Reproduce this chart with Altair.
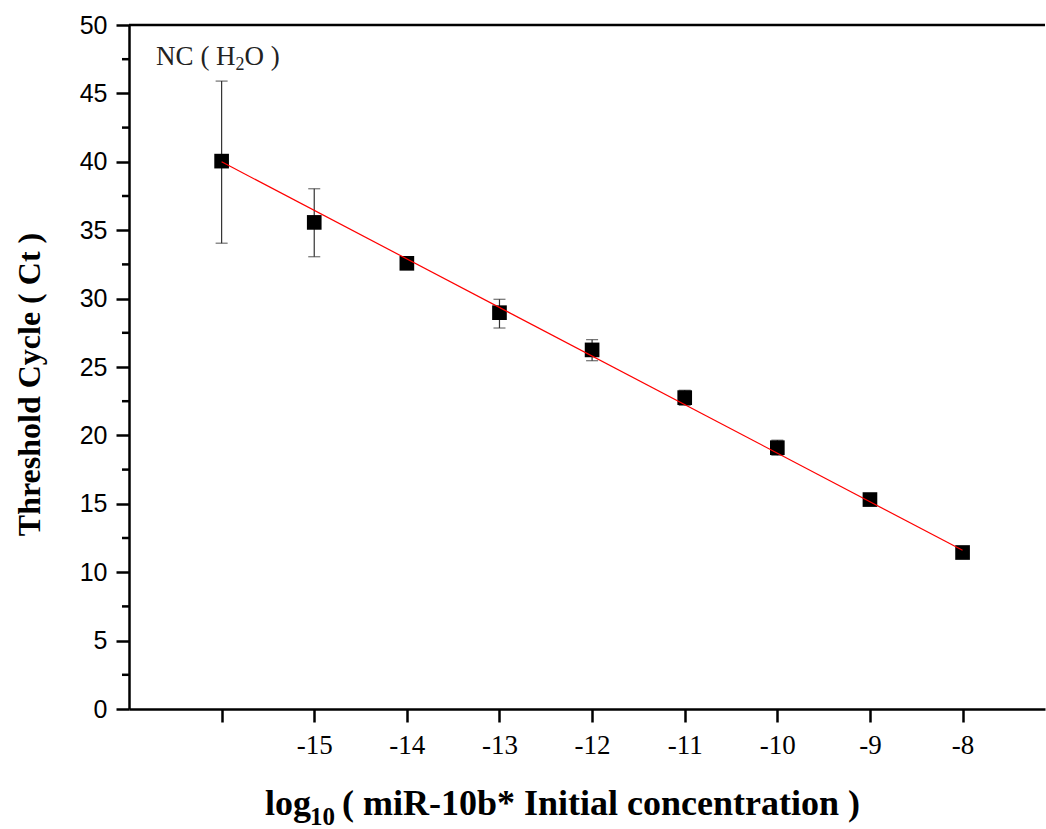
import altair as alt
import pandas as pd

# ---- data ----
conc = [-16, -15, -14, -13, -12, -11, -10, -9, -8]
ct = [40.05, 35.57, 32.58, 28.97, 26.25, 22.76, 19.10, 15.31, 11.44]
ct_low = [34.05, 33.06, 32.30, 27.85, 25.46, 22.20, 18.55, 15.10, 11.25]
ct_high = [45.90, 38.03, 32.85, 29.95, 27.00, 23.30, 19.65, 15.50, 11.60]
fit_x = [-16, -8]
fit_y = [40.0, 11.6]
x_ticks = [-16, -15, -14, -13, -12, -11, -10, -9, -8]
y_ticks = [0, 5, 10, 15, 20, 25, 30, 35, 40, 45, 50]
y_minor = [2.5, 7.5, 12.5, 17.5, 22.5, 27.5, 32.5, 37.5, 42.5, 47.5]

pts = pd.DataFrame({"x": conc, "y": ct, "lo": ct_low, "hi": ct_high})
fit = pd.DataFrame({"x": fit_x, "y": fit_y})
minor = pd.DataFrame({"m": y_minor})
one = pd.DataFrame({"a": [0]})

W, H = 916, 684
xs = alt.Scale(domain=[-17, -7.11], nice=False, zero=False)
ys = alt.Scale(domain=[0, 50], nice=False, zero=False)

x_axis = alt.Axis(
    values=x_ticks,
    labelExpr="datum.value == -16 ? '' : '' + datum.value",
    labelFont="Liberation Serif", labelFontSize=27, labelColor="black",
    labelPadding=10, tickSize=13, tickWidth=2.5, tickColor="black",
    domainColor="black", domainWidth=2.5, grid=False, title=None,
)
y_axis = alt.Axis(
    values=y_ticks, format="d",
    labelFont="Liberation Sans", labelFontSize=25, labelColor="black",
    labelPadding=9, tickSize=13, tickWidth=2.5, tickColor="black",
    domainColor="black", domainWidth=2.5, grid=False,
    title="Threshold Cycle ( Ct )", titleFont="Liberation Serif",
    titleFontSize=32, titleFontWeight="bold", titleColor="black",
    titleAngle=270, titleAlign="center", titleBaseline="middle",
    titleX=-100, titleY=359,
)

base = alt.Chart(pts)

bars = base.mark_rule(color="#333333", strokeWidth=1.2).encode(
    x=alt.X("x:Q", scale=xs, axis=x_axis),
    y=alt.Y("lo:Q", scale=ys, axis=y_axis),
    y2="hi:Q",
)
cap_lo = base.mark_tick(orient="horizontal", size=12, thickness=1.2, color="#333333").encode(
    x=alt.X("x:Q", scale=xs), y=alt.Y("lo:Q", scale=ys)
)
cap_hi = base.mark_tick(orient="horizontal", size=12, thickness=1.2, color="#333333").encode(
    x=alt.X("x:Q", scale=xs), y=alt.Y("hi:Q", scale=ys)
)
squares = base.mark_square(size=215, color="black", opacity=1).encode(
    x=alt.X("x:Q", scale=xs), y=alt.Y("y:Q", scale=ys)
)
line = alt.Chart(fit).mark_line(color="#ff0000", strokeWidth=1.2).encode(
    x=alt.X("x:Q", scale=xs), y=alt.Y("y:Q", scale=ys)
)
minor_ticks = alt.Chart(minor).mark_rule(color="black", strokeWidth=2.5).encode(
    y=alt.Y("m:Q", scale=ys), x=alt.value(-7), x2=alt.value(0)
)
top_border = alt.Chart(one).mark_rule(color="black", strokeWidth=2.5).encode(
    y=alt.datum(50, scale=ys)
)

# annotation NC ( H2O )
nc1 = alt.Chart(one).mark_text(text="NC ( H", font="Liberation Serif", fontSize=27,
                               align="right", baseline="alphabetic", dx=14, color="#222222").encode(
    x=alt.datum(-16, scale=xs), y=alt.datum(47.06, scale=ys))
nc2 = alt.Chart(one).mark_text(text="2", font="Liberation Serif", fontSize=18,
                               align="left", baseline="alphabetic", dx=14, dy=5, color="#222222").encode(
    x=alt.datum(-16, scale=xs), y=alt.datum(47.06, scale=ys))
nc3 = alt.Chart(one).mark_text(text="O )", font="Liberation Serif", fontSize=27,
                               align="left", baseline="alphabetic", dx=23, color="#222222").encode(
    x=alt.datum(-16, scale=xs), y=alt.datum(47.06, scale=ys))

# x axis title with subscript
t1 = alt.Chart(one).mark_text(text="log", font="Liberation Serif", fontSize=36, fontWeight="bold",
                              align="left", baseline="alphabetic", color="black").encode(
    x=alt.value(136), y=alt.value(790))
t2 = alt.Chart(one).mark_text(text="10", font="Liberation Serif", fontSize=25, fontWeight="bold",
                              align="left", baseline="alphabetic", color="black").encode(
    x=alt.value(181), y=alt.value(800))
t3 = alt.Chart(one).mark_text(text="( miR-10b* Initial concentration )", font="Liberation Serif",
                              fontSize=36, fontWeight="bold",
                              align="left", baseline="alphabetic", color="black").encode(
    x=alt.value(213), y=alt.value(790))

chart = alt.layer(
    bars, cap_lo, cap_hi, squares, line, minor_ticks, top_border,
    nc1, nc2, nc3, t1, t2, t3,
).properties(
    width=W, height=H,
    autosize=alt.AutoSizeParams(type="none"),
    padding={"left": 129, "top": 25, "right": 1, "bottom": 120},
    background="white",
).configure_view(stroke=None)

chart.save("out.html", embed_options={"renderer": "svg", "actions": False})
